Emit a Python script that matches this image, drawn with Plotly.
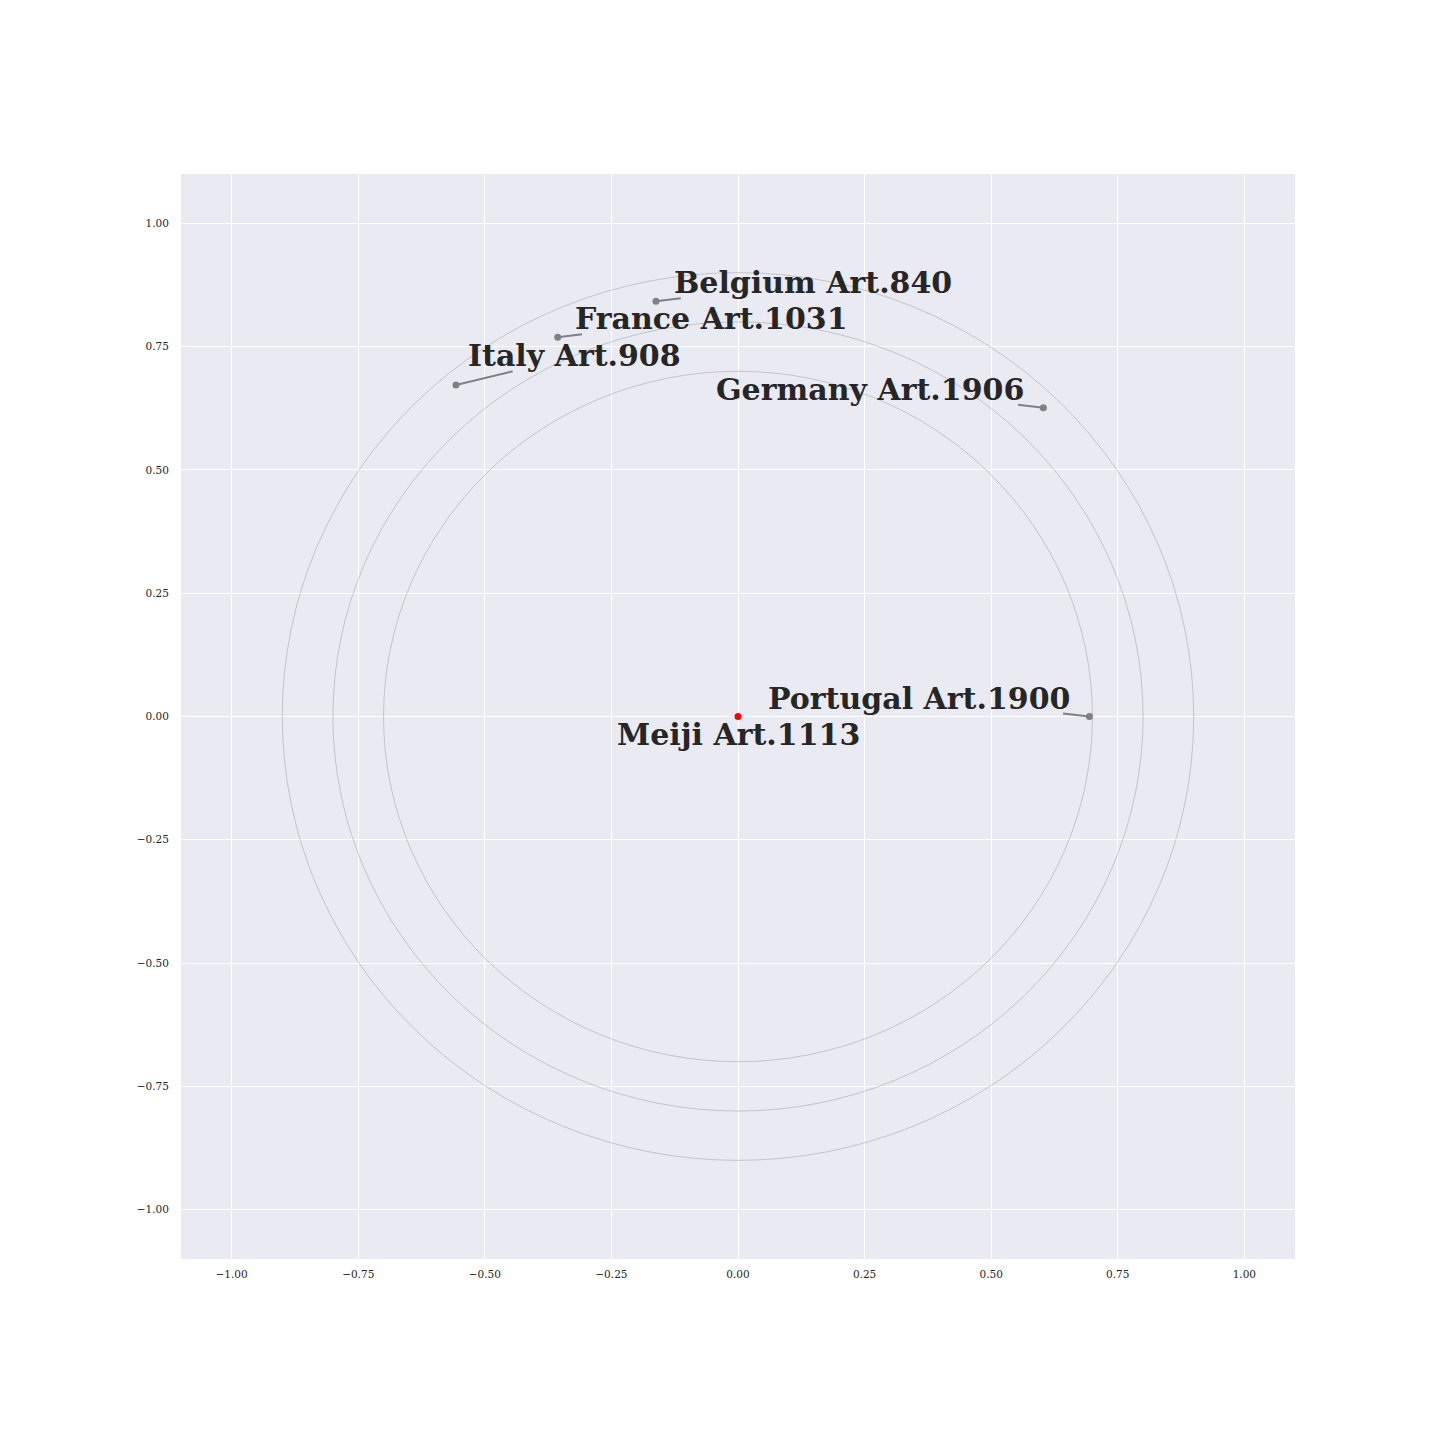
import plotly.graph_objects as go

# Data
countries = ["Belgium", "France", "Italy", "Germany", "Portugal"]
articles = ["Art.840", "Art.1031", "Art.908", "Art.1906", "Art.1900"]
pt_x = [-0.162, -0.356, -0.557, 0.603, 0.694]
pt_y = [0.842, 0.769, 0.672, 0.626, 0.000]
center_name = "Meiji"
center_article = "Art.1113"
center_x = [0.0]
center_y = [0.0]
radii = [0.7, 0.8, 0.9]
tick_vals = [-1.0, -0.75, -0.5, -0.25, 0.0, 0.25, 0.5, 0.75, 1.0]

# label placement (layout)
label_pos = [(0.148, 0.881), (-0.053, 0.808), (-0.322, 0.733), (0.261, 0.664), (0.358, 0.036)]
line_end = [(-0.113, 0.848), (-0.308, 0.775), (-0.445, 0.700), (0.553, 0.632), (0.642, 0.006)]
center_label_pos = (0.0, -0.036)

fig = go.Figure()

# circles
for r in radii:
    fig.add_shape(type="circle", xref="x", yref="y", x0=-r, y0=-r, x1=r, y1=r,
                  line=dict(color="rgba(128,128,128,0.75)", width=0.5), layer="above")

# connector lines
for (x, y), (ex, ey) in zip(zip(pt_x, pt_y), line_end):
    fig.add_trace(go.Scatter(x=[x, ex], y=[y, ey], mode="lines",
                             line=dict(color="#7d8088", width=2), hoverinfo="skip", showlegend=False))

fig.add_trace(go.Scatter(x=pt_x, y=pt_y, mode="markers",
                         marker=dict(color="#808080", size=7), showlegend=False))
fig.add_trace(go.Scatter(x=center_x, y=center_y, mode="markers",
                         marker=dict(color="red", size=7), showlegend=False))

lab_font = dict(family="DejaVu Serif", size=30, color="#262626", weight="bold")
for c, a, (lx, ly) in zip(countries, articles, label_pos):
    fig.add_annotation(x=lx, y=ly, text=f"<b>{c} {a}</b>", showarrow=False,
                       xanchor="center", yanchor="middle", font=lab_font)
fig.add_annotation(x=center_label_pos[0], y=center_label_pos[1], text=f"<b>{center_name} {center_article}</b>",
                   showarrow=False, xanchor="center", yanchor="middle", font=lab_font)

axis_common = dict(tickvals=tick_vals, tickformat=".2f", showgrid=True, gridcolor="white", gridwidth=1,
                   zeroline=False, showline=False, ticks="outside", tickcolor="rgba(0,0,0,0)",
                   tickfont=dict(family="DejaVu Serif", size=10.5, color="#262626"))
fig.update_xaxes(range=[-1.1, 1.1], ticklen=5, **axis_common)
fig.update_yaxes(range=[-1.1, 1.1], ticklen=9, **axis_common)

fig.update_layout(width=1440, height=1440, paper_bgcolor="white", plot_bgcolor="#EAEAF2",
                  margin=dict(l=173, r=153, t=166, b=189), showlegend=False)

fig.write_html("out.html")
